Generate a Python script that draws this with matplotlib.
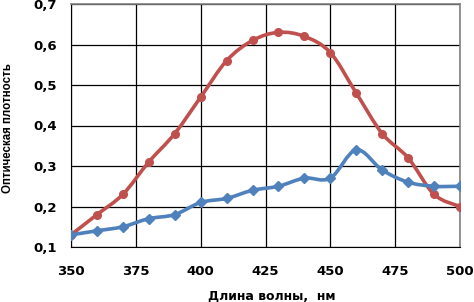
import matplotlib
matplotlib.use("Agg")
import matplotlib.pyplot as plt
from matplotlib.path import Path
from matplotlib.patches import PathPatch
from matplotlib.ticker import FuncFormatter

wavelength = [350, 360, 370, 380, 390, 400, 410, 420, 430, 440, 450, 460, 470, 480, 490, 500]
red_values = [0.13, 0.18, 0.23, 0.31, 0.38, 0.47, 0.56, 0.61, 0.63, 0.62, 0.58, 0.48, 0.38, 0.32, 0.23, 0.20]
blue_values = [0.13, 0.14, 0.15, 0.17, 0.18, 0.21, 0.22, 0.24, 0.25, 0.27, 0.27, 0.34, 0.29, 0.26, 0.25, 0.25]
x_ticks = [350, 375, 400, 425, 450, 475, 500]
y_ticks = [0.1, 0.2, 0.3, 0.4, 0.5, 0.6, 0.7]


def smooth_path(xs, ys, tension=1 / 6):
    # Excel-like smoothed line: Catmull-Rom segments as cubic Bezier curves
    verts = [(xs[0], ys[0])]
    codes = [Path.MOVETO]
    n = len(xs)
    for i in range(n - 1):
        x0, y0 = (xs[i - 1], ys[i - 1]) if i > 0 else (xs[i], ys[i])
        x1, y1 = xs[i], ys[i]
        x2, y2 = xs[i + 1], ys[i + 1]
        x3, y3 = (xs[i + 2], ys[i + 2]) if i + 2 < n else (x2, y2)
        c1 = (x1 + (x2 - x0) * tension, y1 + (y2 - y0) * tension)
        c2 = (x2 - (x3 - x1) * tension, y2 - (y3 - y1) * tension)
        verts += [c1, c2, (x2, y2)]
        codes += [Path.CURVE4] * 3
    return Path(verts, codes)


fig = plt.figure(figsize=(4.74, 3.02), dpi=100)
ax = fig.add_axes([71 / 474, 1 - 247 / 302, 389 / 474, 243 / 302])

for ys, color, marker, ms in [(red_values, "#C0504D", "o", 5.5), (blue_values, "#4F81BD", "D", 5.5)]:
    ax.add_patch(PathPatch(smooth_path(wavelength, ys), facecolor="none",
                           edgecolor=color, lw=2.6, zorder=3, capstyle="round"))
    ax.plot(wavelength, ys, linestyle="none", marker=marker, ms=ms,
            color=color, zorder=4)

ax.set_xlim(350, 500)
ax.set_ylim(0.1, 0.7)
ax.set_xticks(x_ticks)
ax.set_yticks(y_ticks)
ax.yaxis.set_major_formatter(FuncFormatter(lambda v, p: f"{v:.1f}".replace(".", ",")))
ax.grid(True, color="black", lw=0.9)
ax.set_axisbelow(True)
ax.tick_params(length=0, pad=10, labelsize=9.5)
for lab in ax.get_xticklabels() + ax.get_yticklabels():
    lab.set_fontweight("bold")
    lab.set_family("DejaVu Sans")
ax.tick_params(axis="x", pad=13)

for side in ["top", "right"]:
    ax.spines[side].set_color("#808080")
    ax.spines[side].set_linewidth(1.2)
for side in ["left", "bottom"]:
    ax.spines[side].set_color("black")

fig.text(272 / 474, 1 - 296 / 302, "Длина волны,  нм", fontsize=9, fontweight="bold",
         ha="center", va="center")
fig.text(8 / 474, 1 - 128 / 302, "Оптическая плотность", fontsize=8.3, fontweight="bold",
         family=["Liberation Sans Narrow", "Liberation Sans", "DejaVu Sans"],
         rotation=90, ha="center", va="center")

fig.savefig("out.png", dpi=100)
